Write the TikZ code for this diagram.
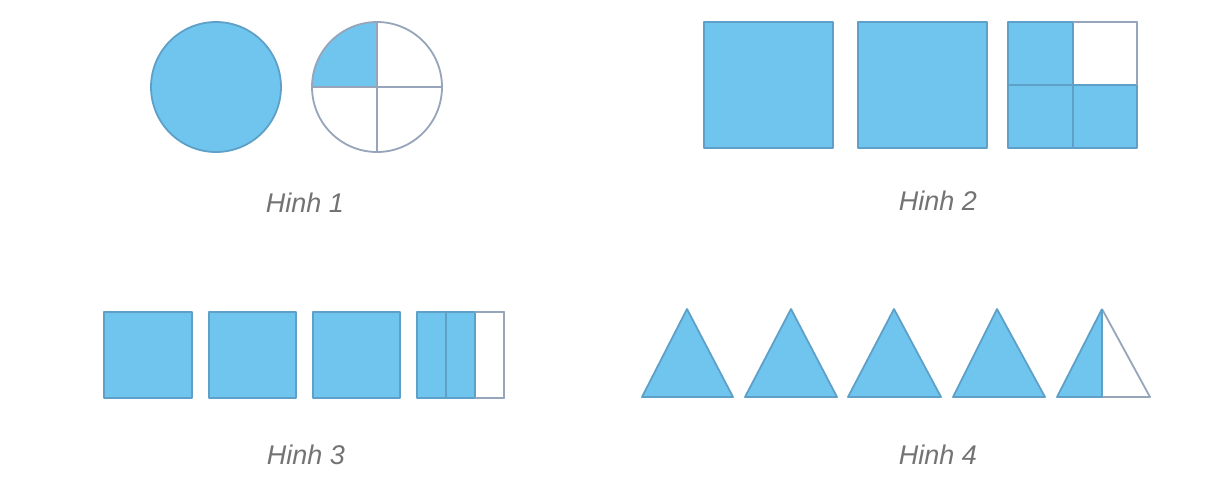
\documentclass[tikz,border=0pt]{standalone}
\usepackage{fontspec}
\setmainfont{Liberation Sans}
\definecolor{bfill}{RGB}{112,197,238}
\definecolor{bline}{RGB}{95,160,200}
\definecolor{gline}{RGB}{150,165,185}
\definecolor{lbl}{RGB}{115,115,115}
\begin{document}
\begin{tikzpicture}[x=1pt,y=-1pt,
  bshape/.style={fill=bfill,draw=bline,line width=1.8pt,line join=round},
  divline/.style={draw=bline,line width=1.5pt},
  gedge/.style={draw=gline,line width=1.8pt,line join=round},
  caption/.style={font=\fontsize{27}{30}\selectfont\itshape,text=lbl,inner sep=0pt}]
\useasboundingbox[fill=white] (0,0) rectangle (1219,499);
% Hinh 1
\draw[bshape] (216,87) circle (65);
\fill[bfill] (377,87) -- (312,87) arc (180:270:65) -- cycle;
\draw[gedge] (377,87) circle (65);
\draw[gedge] (312,87) -- (442,87) (377,22) -- (377,152);
\node[caption] (h1) at (305,203) {Hinh 1};
% Hinh 2
\draw[bshape] (704,22) rectangle (833,148);
\draw[bshape] (858,22) rectangle (987,148);
\draw[bshape] (1008,22) rectangle (1137,148);
\fill[white] (1073,22.9) rectangle (1136.1,85);
\draw[divline] (1008,85) -- (1137,85) (1073,22) -- (1073,148);
\draw[gedge] (1073,22) -- (1137,22) -- (1137,85);
\node[caption] (h2) at (938,201) {Hinh 2};
% Hinh 3
\draw[bshape] (104,312) rectangle (192,398);
\draw[bshape] (209,312) rectangle (296,398);
\draw[bshape] (313,312) rectangle (400,398);
\draw[bshape] (417,312) rectangle (504,398);
\fill[white] (475,312.9) rectangle (503.1,397.1);
\draw[divline] (446,312) -- (446,398) (475,312) -- (475,398);
\draw[gedge] (475,312) -- (504,312) -- (504,398) -- (475,398);
\node[caption] (h3) at (306,455) {Hinh 3};
% Hinh 4
\draw[bshape] (642,397) -- (687,309) -- (733,397) -- cycle;
\draw[bshape] (745,397) -- (791,309) -- (837,397) -- cycle;
\draw[bshape] (848,397) -- (894,309) -- (941,397) -- cycle;
\draw[bshape] (953,397) -- (997,309) -- (1045,397) -- cycle;
\fill[bfill] (1057,397) -- (1102,309) -- (1102,397) -- cycle;
\draw[bline,line width=1.8pt,line join=round] (1102,397) -- (1057,397) -- (1102,309);
\draw[gedge] (1102,309) -- (1150,397) -- (1102,397);
\draw[divline] (1102,309) -- (1102,397);
\node[caption] (h4) at (938,455) {Hinh 4};
\end{tikzpicture}
\end{document}
